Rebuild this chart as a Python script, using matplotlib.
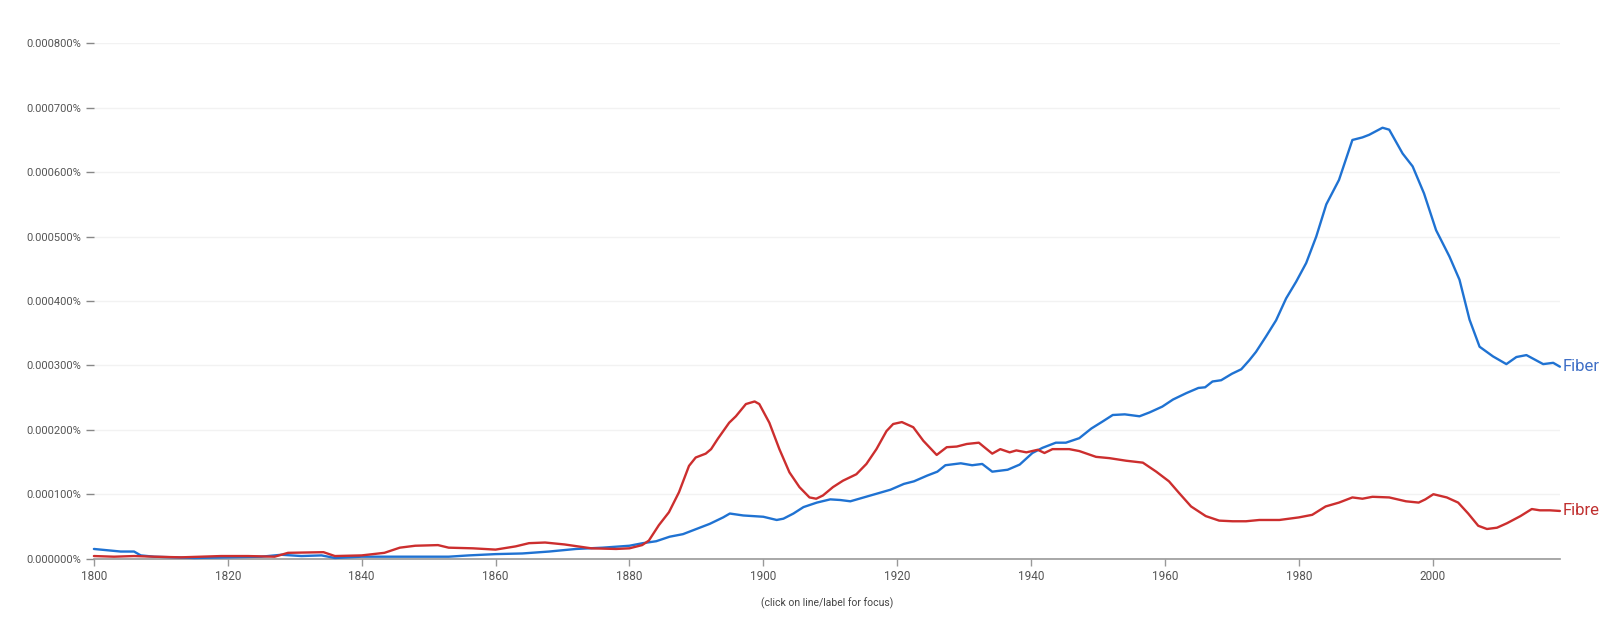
import numpy as np
import matplotlib
matplotlib.use("Agg")
import matplotlib.pyplot as plt
from matplotlib.ticker import FuncFormatter

plt.rcParams['font.family'] = ['Roboto', 'DejaVu Sans']

# values, in units of 0.0001 %
fiber_years = [1800, 1802, 1804, 1806, 1807, 1809, 1812, 1815, 1820, 1825, 1828, 1831, 1834,
               1836, 1840, 1845, 1850, 1853, 1856, 1860, 1864, 1868, 1872, 1876, 1880, 1882,
               1884, 1886, 1888, 1890, 1892, 1894, 1895, 1897, 1900, 1902, 1903, 1904.5, 1906,
               1908, 1910, 1911.5, 1913, 1915, 1917, 1919, 1921, 1922.5, 1924.5, 1926, 1927.2,
               1929.5, 1931.2, 1932.7, 1934.2, 1936.5, 1938.3, 1940.2, 1941.7, 1943.7, 1945.2,
               1947.2, 1949, 1950.7, 1952.2, 1954, 1956.2, 1957.7, 1959.6, 1961.2, 1963.2, 1965,
               1966, 1967.1, 1968.4, 1970, 1971.4, 1972.6, 1973.6, 1975.1, 1976.6, 1978.1,
               1979.6, 1981.1, 1982.6, 1984.1, 1986, 1988, 1989.5, 1990.5, 1992.5, 1993.5,
               1995.5, 1997, 1998.7, 2000.5, 2002.5, 2004, 2005.5, 2007, 2009, 2011, 2012.5,
               2014, 2016.5, 2018, 2019]
fiber_vals = [0.15, 0.13, 0.11, 0.11, 0.05, 0.03, 0.02, 0.01, 0.02, 0.03, 0.06, 0.04, 0.05,
              0.01, 0.03, 0.03, 0.03, 0.03, 0.05, 0.07, 0.08, 0.11, 0.15, 0.17, 0.20, 0.24,
              0.27, 0.34, 0.38, 0.46, 0.54, 0.64, 0.70, 0.67, 0.65, 0.60, 0.62, 0.70, 0.80,
              0.87, 0.92, 0.91, 0.89, 0.95, 1.01, 1.07, 1.16, 1.20, 1.29, 1.35, 1.45,
              1.48, 1.45, 1.47, 1.35, 1.38, 1.46, 1.64, 1.72, 1.80, 1.80,
              1.87, 2.02, 2.13, 2.23, 2.24, 2.21, 2.27, 2.36, 2.47, 2.57, 2.65,
              2.66, 2.75, 2.77, 2.87, 2.94, 3.08, 3.21, 3.45, 3.70, 4.04,
              4.30, 4.59, 5.00, 5.50, 5.88, 6.50, 6.54, 6.58, 6.69, 6.66,
              6.29, 6.09, 5.67, 5.10, 4.69, 4.33, 3.71, 3.29, 3.14, 3.02, 3.13,
              3.16, 3.02, 3.04, 2.98]

fibre_years = [1800, 1803, 1806, 1809, 1813, 1819, 1823, 1827, 1829, 1834.3, 1836, 1840, 1843.4,
               1845.7, 1848, 1851.4, 1853, 1856.6, 1860, 1863, 1865, 1867.4, 1870.3, 1874.3,
               1878, 1880, 1881.9, 1882.9, 1884.4, 1885.9, 1887.4, 1888.9, 1889.9, 1891.4,
               1892.2, 1893.2, 1894.9, 1895.9, 1897.4, 1898.7, 1899.4, 1900.9, 1902.4, 1903.9,
               1905.4, 1906.9, 1907.9, 1908.9, 1910.4, 1911.9, 1913.9, 1915.4, 1916.9, 1918.4,
               1919.4, 1920.7, 1922.4, 1923.9, 1925.9, 1927.4, 1928.9, 1930.4, 1932.2, 1932.9,
               1934.2, 1935.4, 1936.8, 1937.8, 1939.3, 1941, 1942, 1943.2, 1945.7, 1947.2,
               1949.7, 1951.7, 1954.2, 1956.7, 1958.7, 1960.6, 1962.1, 1963.9, 1966.1, 1968.1,
               1970.1, 1972.1, 1974.1, 1977.1, 1980, 1982, 1984, 1986, 1988, 1989.5, 1991,
               1993.5, 1996, 1997.9, 1998.9, 2000.1, 2002.1, 2003.8, 2005.3, 2006.8, 2008.1,
               2009.6, 2011.1, 2013.1, 2014.8, 2016, 2017.5, 2019]
fibre_vals = [0.04, 0.03, 0.04, 0.03, 0.02, 0.04, 0.04, 0.03, 0.09, 0.10, 0.04, 0.05, 0.09,
              0.17, 0.20, 0.21, 0.17, 0.16, 0.14, 0.19, 0.24, 0.25, 0.22, 0.16,
              0.15, 0.16, 0.21, 0.28, 0.52, 0.72, 1.03, 1.44, 1.57, 1.63,
              1.70, 1.86, 2.11, 2.21, 2.40, 2.44, 2.40, 2.11, 1.70, 1.34,
              1.11, 0.95, 0.93, 0.98, 1.11, 1.21, 1.31, 1.47, 1.70, 1.98,
              2.09, 2.12, 2.04, 1.83, 1.61, 1.73, 1.74, 1.78, 1.80, 1.74,
              1.63, 1.70, 1.65, 1.68, 1.65, 1.69, 1.64, 1.70, 1.70, 1.67,
              1.58, 1.56, 1.52, 1.49, 1.35, 1.20, 1.02, 0.81, 0.66, 0.59,
              0.58, 0.58, 0.60, 0.60, 0.64, 0.68, 0.81, 0.87, 0.95, 0.93, 0.96,
              0.95, 0.89, 0.87, 0.92, 1.00, 0.95, 0.87, 0.70, 0.51, 0.46,
              0.48, 0.55, 0.66, 0.77, 0.75, 0.75, 0.74]

x_ticks = list(range(1800, 2001, 20))
y_ticks = [0, 1, 2, 3, 4, 5, 6, 7, 8]

fig = plt.figure(figsize=(16.19, 6.33), dpi=100)
ax = fig.add_axes([0.058, 0.1175, 0.9055, 0.814])

blue = '#1f72d2'
red = '#cc2e2e'
ax.plot(fiber_years, np.array(fiber_vals) * 1e-4, color=blue, lw=1.7, clip_on=False,
        zorder=3, solid_joinstyle='round', solid_capstyle='round')
ax.plot(fibre_years, np.array(fibre_vals) * 1e-4, color=red, lw=1.7, clip_on=False,
        zorder=4, solid_joinstyle='round', solid_capstyle='round')

ax.text(fiber_years[-1] + 0.4, fiber_vals[-1] * 1e-4, 'Fiber', color='#3f6fc6',
        fontsize=12, va='center', ha='left')
ax.text(fibre_years[-1] + 0.4, fibre_vals[-1] * 1e-4, 'Fibre', color='#c03030',
        fontsize=12, va='center', ha='left')

ax.set_xlim(1800, 2019)
ax.set_ylim(0, 8e-4)
ax.set_xticks(x_ticks)
ax.set_yticks([v * 1e-4 for v in y_ticks])
ax.yaxis.set_major_formatter(FuncFormatter(lambda v, p: '{:.6f}%'.format(v)))

ax.grid(axis='y', color='#f2f2f2', lw=1)
ax.set_axisbelow(True)
for s in ['top', 'right', 'left']:
    ax.spines[s].set_visible(False)
ax.spines['bottom'].set_color('#999999')
ax.spines['bottom'].set_linewidth(1.2)

ax.tick_params(axis='y', length=6, width=1, color='#888888', pad=3,
               labelsize=8, labelcolor='#555555')
ax.tick_params(axis='x', length=5, width=1, color='#999999', pad=3,
               labelsize=8.5, labelcolor='#555555')

fig.text(0.5107, 0.047, '(click on line/label for focus)', fontsize=7.5,
         color='#444444', ha='center', va='center')

fig.savefig('out.png', dpi=100)
